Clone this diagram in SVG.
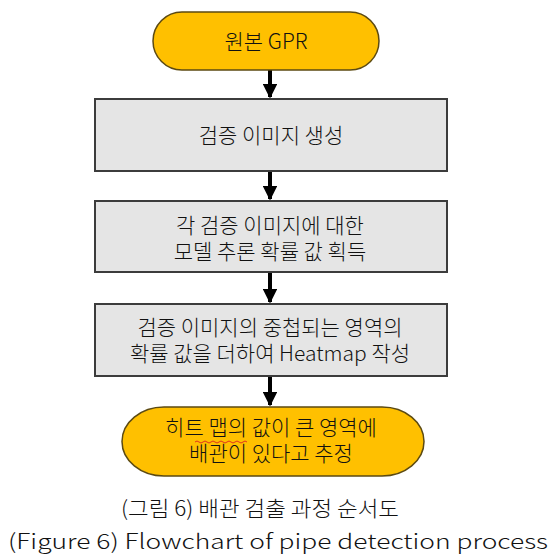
<svg xmlns="http://www.w3.org/2000/svg" width="555" height="559" viewBox="0 0 555 559">
<defs>
<style>
.term{fill:#FFC000;stroke:#5C4A12;stroke-width:1.5}
.box{fill:#E5E5E5;stroke:#3C3C3C;stroke-width:2}
.t{font-family:"Malgun Gothic","Noto Sans CJK KR","Noto Sans",sans-serif;font-size:21px;font-weight:300;fill:#111;text-anchor:middle}
.cap{font-family:"Noto Sans CJK KR","Liberation Sans",sans-serif;font-size:21px;font-weight:300;fill:#111}
.conn{stroke:#000;stroke-width:4;fill:none}
</style>
<marker id="ah" viewBox="0 0 10 10" refX="9" refY="5" markerWidth="4" markerHeight="3.6" markerUnits="strokeWidth" orient="auto">
<path d="M0,0 L10,5 L0,10 z" fill="#000"/>
</marker>
</defs>
<rect width="555" height="559" fill="#fff"/>
<g id="connectors">
<line class="conn" x1="270" y1="70" x2="270" y2="97" marker-end="url(#ah)"/>
<line class="conn" x1="270" y1="171" x2="270" y2="199" marker-end="url(#ah)"/>
<line class="conn" x1="270" y1="273" x2="270" y2="302" marker-end="url(#ah)"/>
<line class="conn" x1="270" y1="377" x2="270" y2="405" marker-end="url(#ah)"/>
</g>
<g id="n1">
<rect class="term" x="153" y="12" width="226" height="58" rx="29" ry="29"/>
<text class="t" x="266" y="49">원본 GPR</text>
</g>
<g id="n2">
<rect class="box" x="95" y="99" width="352" height="72"/>
<text class="t" x="271" y="143">검증 이미지 생성</text>
</g>
<g id="n3">
<rect class="box" x="95" y="201" width="352" height="71"/>
<text class="t" x="270" y="233">각 검증 이미지에 대한</text>
<text class="t" x="270" y="259">모델 추론 확률 값 획득</text>
</g>
<g id="n4">
<rect class="box" x="95" y="304" width="352" height="72"/>
<text class="t" x="270" y="335">검증 이미지의 중첩되는 영역의</text>
<text class="t" x="270" y="361">확률 값을 더하여 Heatmap 작성</text>
</g>
<g id="n5">
<rect class="term" x="122" y="407" width="302" height="69" rx="42" ry="34.5"/>
<text class="t" x="271" y="435">히트 맵의 값이 큰 영역에</text>
<text class="t" x="271" y="461">배관이 있다고 추정</text>
<path d="M195,442 q2,-2 4,0 t4,0 t4,0 t4,0 t4,0 t4,0 t4,0 t4,0 t4,0 t4,0 t4,0 t4,0 t4,0" fill="none" stroke="#d22" stroke-width="0.9"/>
</g>
<g id="caption">
<text class="cap" x="121" y="516" textLength="278" lengthAdjust="spacingAndGlyphs">(그림 6) 배관 검출 과정 순서도</text>
<text class="cap" x="8" y="549" textLength="540" lengthAdjust="spacingAndGlyphs">(Figure 6) Flowchart of pipe detection process</text>
</g>
</svg>
